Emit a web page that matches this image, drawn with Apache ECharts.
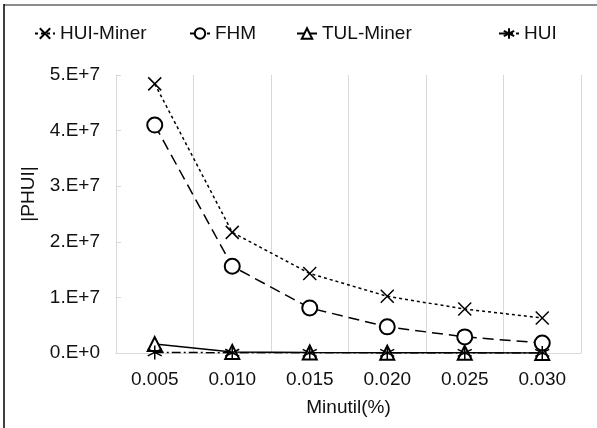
<!DOCTYPE html>
<html>
<head>
<meta charset="utf-8">
<script src="https://cdn.jsdelivr.net/npm/echarts@6/dist/echarts.min.js"></script>
<style>
html,body{margin:0;padding:0;background:#fff;}
#c{width:597px;height:428px;}
</style>
</head>
<body>
<div id="c"></div>
<script>
const categories = ['0.005', '0.010', '0.015', '0.020', '0.025', '0.030'];
const huiMiner = [4.84e7, 2.17e7, 1.43e7, 1.02e7, 0.79e7, 0.63e7];
const fhm = [4.10e7, 1.56e7, 0.81e7, 0.47e7, 0.29e7, 0.18e7];
const tulMiner = [1.6e6, 2.0e5, 1.0e5, 5.0e4, 3.0e4, 2.0e4];
const hui = [1.0e5, 5.0e4, 3.0e4, 2.0e4, 1.0e4, 1.0e4];
const seriesNames = ['HUI-Miner', 'FHM', 'TUL-Miner', 'HUI'];
const yTickLabels = ['0.E+0', '1.E+7', '2.E+7', '3.E+7', '4.E+7', '5.E+7'];

const FONT = 'Liberation Sans, Arial, sans-serif';
const TXT = '#111';
const crossPath = 'path://M0,0 L10,10 M10,0 L0,10';
const starPath = 'path://M5,0 L5,10 M0.7,2.5 L9.3,7.5 M0.7,7.5 L9.3,2.5';

const chart = echarts.init(document.getElementById('c'), null, {renderer: 'canvas'});

function mkSeries(name, data, symbol, size, dash, z, empty) {
  return {
    name: name, type: 'line', data: data, z: z,
    symbol: symbol, symbolSize: size, showSymbol: true,
    lineStyle: {color: '#000', width: 1.5, type: dash},
    itemStyle: empty
      ? {color: '#000', borderColor: '#000', borderWidth: 1.5}
      : {color: 'rgba(255,255,255,0)', borderColor: '#000', borderWidth: 1.5},
    emphasis: {disabled: true},
    animation: false
  };
}

function mkLegend(name, left) {
  return {
    data: [name], left: left, top: 19, itemWidth: 20, itemHeight: 13, itemGap: 4,
    textStyle: {fontFamily: FONT, fontSize: 19, color: TXT}
  };
}

chart.setOption({
  backgroundColor: '#fff',
  animation: false,
  legend: [
    mkLegend(seriesNames[0], 29),
    mkLegend(seriesNames[1], 184),
    mkLegend(seriesNames[2], 291),
    mkLegend(seriesNames[3], 493)
  ],
  grid: {left: 116, right: 16, top: 75, bottom: 75, containLabel: false},
  xAxis: {
    type: 'category', data: categories, boundaryGap: true,
    name: 'Minutil(%)', nameLocation: 'middle', nameGap: 45,
    nameTextStyle: {fontFamily: FONT, fontSize: 19, color: TXT},
    axisLine: {lineStyle: {color: '#d9d9d9', width: 1}},
    axisTick: {show: false},
    axisLabel: {fontFamily: FONT, fontSize: 19, color: TXT, margin: 17},
    splitLine: {show: true, lineStyle: {color: '#d9d9d9', width: 1}}
  },
  yAxis: {
    type: 'value', min: 0, max: 5e7, interval: 1e7,
    name: '|PHUI|', nameLocation: 'middle', nameGap: 78, nameRotate: 90,
    nameTextStyle: {fontFamily: FONT, fontSize: 19, color: TXT, padding: [0, 0, 0, 40]},
    axisLine: {show: true, lineStyle: {color: '#d9d9d9', width: 1}},
    axisTick: {show: true, inside: true, length: 5, lineStyle: {color: '#d9d9d9'}},
    axisLabel: {fontFamily: FONT, fontSize: 19, color: TXT, margin: 16,
      formatter: function (v) { return yTickLabels[Math.round(v / 1e7)]; }},
    splitLine: {show: false}
  },
  series: [
    mkSeries(seriesNames[0], huiMiner, crossPath, 13, [3, 3], 4, false),
    mkSeries(seriesNames[1], fhm, 'emptyCircle', 15, [11, 6], 3, true),
    mkSeries(seriesNames[2], tulMiner, 'emptyTriangle', 14, 'solid', 2, true),
    mkSeries(seriesNames[3], hui, starPath, 14, [9, 3, 2, 3], 5, false)
  ],
  graphic: [
    {type: 'line', shape: {x1: 4, y1: 5, x2: 597, y2: 5}, style: {stroke: '#8c8c8c', lineWidth: 2}, silent: true},
    {type: 'line', shape: {x1: 4, y1: 4, x2: 4, y2: 428}, style: {stroke: '#000', lineWidth: 1.5}, silent: true}
  ]
});
</script>
</body>
</html>
